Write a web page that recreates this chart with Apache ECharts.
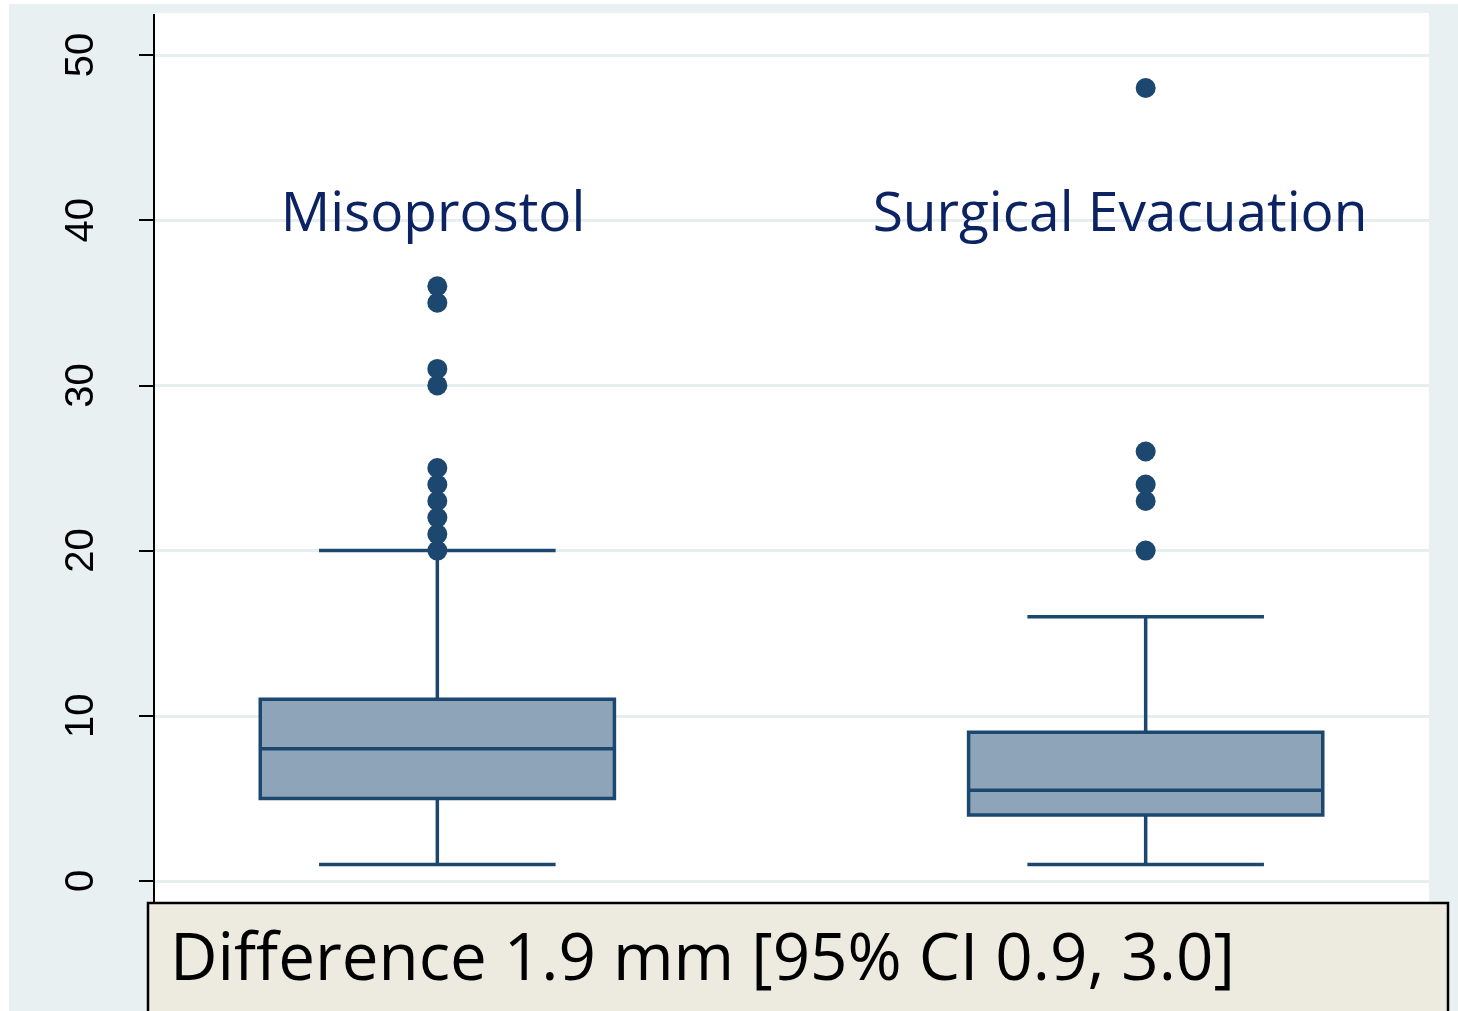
<!DOCTYPE html>
<html>
<head>
<meta charset="utf-8">
<script src="https://cdn.jsdelivr.net/npm/echarts@6/dist/echarts.min.js"></script>
<style>
html, body { margin: 0; padding: 0; background: #fff; }
#main { width: 1458px; height: 1011px; }
</style>
</head>
<body>
<div id="main"></div>
<script>
// box plot summary values
const groups = ['Misoprostol', 'Surgical Evacuation'];
const groupX = [1, 2];
const whiskerLow = [1, 1];
const q1 = [5, 4];
const median = [8, 5.5];
const q3 = [11, 9];
const whiskerHigh = [20, 16];
const outliers = [
  [20, 21, 22, 23, 24, 25, 30, 31, 35, 36],
  [20, 23, 24, 26, 48]
];
const noteText = 'Difference 1.9 mm [95% CI 0.9, 3.0]';

const DARK = '#1c476f';
const FILL = '#8ea5b9';
const NAVY = '#0b2363';

let boxData = groupX.map((x, i) => [x, whiskerLow[i], q1[i], median[i], q3[i], whiskerHigh[i]]);
let outlierData = [];
outliers.forEach((arr, i) => {
  arr.forEach(v => outlierData.push([groupX[i], v]));
});

function renderBox(params, api) {
  const x = api.value(0);
  const band = api.size([1, 0])[0];
  const boxHalf = band * 0.25;
  const capHalf = band * 0.167;
  const pLow = api.coord([x, api.value(1)]);
  const pQ1 = api.coord([x, api.value(2)]);
  const pMed = api.coord([x, api.value(3)]);
  const pQ3 = api.coord([x, api.value(4)]);
  const pHigh = api.coord([x, api.value(5)]);
  const cx = pLow[0];
  const ls = { stroke: DARK, lineWidth: 3.5 };
  return {
    type: 'group',
    children: [
      { type: 'line', shape: { x1: cx, y1: pQ3[1], x2: cx, y2: pHigh[1] }, style: ls },
      { type: 'line', shape: { x1: cx, y1: pQ1[1], x2: cx, y2: pLow[1] }, style: ls },
      { type: 'line', shape: { x1: cx - capHalf, y1: pHigh[1], x2: cx + capHalf, y2: pHigh[1] }, style: ls },
      { type: 'line', shape: { x1: cx - capHalf, y1: pLow[1], x2: cx + capHalf, y2: pLow[1] }, style: ls },
      {
        type: 'rect',
        shape: { x: cx - boxHalf, y: pQ3[1], width: boxHalf * 2, height: pQ1[1] - pQ3[1] },
        style: { fill: FILL, stroke: DARK, lineWidth: 3.5 }
      },
      { type: 'line', shape: { x1: cx - boxHalf, y1: pMed[1], x2: cx + boxHalf, y2: pMed[1] }, style: ls }
    ]
  };
}

let chart = echarts.init(document.getElementById('main'));

let option = {
  animation: false,
  grid: { left: 154, right: 29, top: 55, bottom: 130 },
  xAxis: { type: 'value', min: 0.6, max: 2.4, show: false },
  yAxis: {
    type: 'value',
    min: 0,
    max: 50,
    interval: 10,
    axisLine: { show: false },
    axisTick: { show: true, length: 15, lineStyle: { color: '#000', width: 2 } },
    axisLabel: {
      rotate: 90,
      margin: 52,
      fontSize: 40,
      fontFamily: 'Liberation Sans',
      color: '#000'
    },
    splitLine: { show: true, lineStyle: { color: '#e6eef0', width: 3 } }
  },
  graphic: [
    { type: 'rect', z: -20, shape: { x: 9, y: 4, width: 1449, height: 1007 }, style: { fill: '#e8f0f2' } },
    { type: 'rect', z: -10, shape: { x: 155, y: 13, width: 1274, height: 890 }, style: { fill: '#fff' } },
    { type: 'line', z: 5, shape: { x1: 154, y1: 14, x2: 154, y2: 902 }, style: { stroke: '#000', lineWidth: 2 } },
    {
      type: 'text', z: 5,
      style: { x: 433, y: 215, text: groups[0], fill: NAVY, font: '55px "Open Sans"', align: 'center', verticalAlign: 'middle' }
    },
    {
      type: 'text', z: 5,
      style: { x: 1120, y: 215, text: groups[1], fill: NAVY, font: '55px "Open Sans"', align: 'center', verticalAlign: 'middle' }
    },
    {
      type: 'rect', z: 10,
      shape: { x: 148, y: 903, width: 1300, height: 130 },
      style: { fill: '#edeae0', stroke: '#000', lineWidth: 2.5 }
    },
    {
      type: 'text', z: 11,
      style: { x: 170, y: 961, text: noteText, fill: '#000', font: '65.5px "Open Sans"', align: 'left', verticalAlign: 'middle' }
    }
  ],
  series: [
    {
      type: 'custom',
      renderItem: renderBox,
      data: boxData,
      z: 2
    },
    {
      type: 'scatter',
      data: outlierData,
      symbol: 'circle',
      symbolSize: 20,
      itemStyle: { color: DARK, opacity: 1 },
      z: 3
    }
  ]
};

chart.setOption(option);
</script>
</body>
</html>
